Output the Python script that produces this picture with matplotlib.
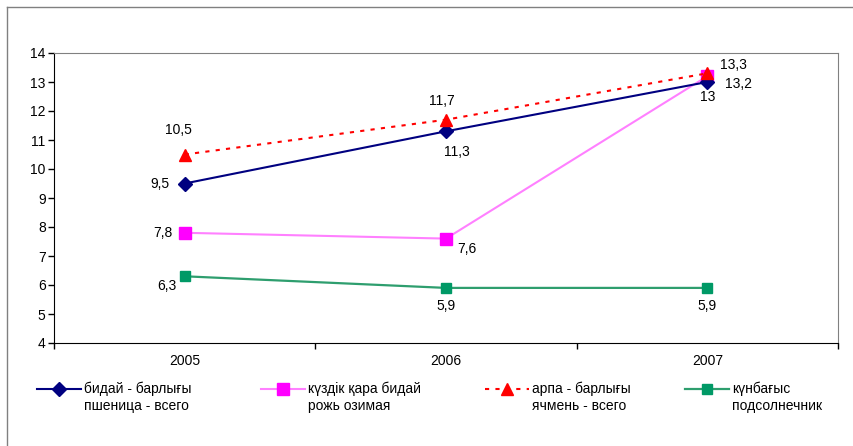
import numpy as np
import matplotlib
matplotlib.use('Agg')
import matplotlib.pyplot as plt
from matplotlib.lines import Line2D

plt.rcParams['font.family'] = ['Liberation Sans', 'DejaVu Sans']

# data
years = ['2005', '2006', '2007']
wheat = [9.5, 11.3, 13]
rye = [7.8, 7.6, 13.2]
barley = [10.5, 11.7, 13.3]
sunflower = [6.3, 5.9, 5.9]
names1 = ['бидай - барлығы', 'күздік қара бидай', 'арпа - барлығы', 'күнбағыс']
names2 = ['пшеница - всего', 'рожь озимая', 'ячмень - всего', 'подсолнечник']

W, H = 854, 446
fs = 10
fig = plt.figure(figsize=(W / 100, H / 100), dpi=100)
ax = fig.add_axes([54 / W, 1 - 343 / H, (838 - 54) / W, (343 - 53) / H])

x = np.arange(len(years))

h1, = ax.plot(x, wheat, color='#000080', lw=1.5, marker='D', ms=7,
              mfc='#000080', mec='#000080', zorder=4)
h2, = ax.plot(x, rye, color='#ff80ff', lw=1.5, marker='s', ms=8,
              mfc='#ff00ff', mec='#ff00ff', zorder=3)
h3, = ax.plot(x, barley, color='#ff0000', lw=1.5, ls=(0, (2, 3)), marker='^',
              ms=8, mfc='#ff0000', mec='#ff0000', zorder=5)
h4, = ax.plot(x, sunflower, color='#2e9e6e', lw=1.6, marker='s', ms=7,
              mfc='#009966', mec='#009966', zorder=3)

def lab(v):
    return ('%g' % v).replace('.', ',')

# label offsets in pixels (dx, dy), positive dy = up
offs = {
    'wheat': [(-25, 0), (11, -21), (0, -15)],
    'rye': [(-22, 0), (21, -10), (31, -8)],
    'barley': [(-6, 24), (-4, 19), (26, 8)],
    'sun': [(-18, -10), (0, -18), (0, -18)],
}
for key, ser in [('wheat', wheat), ('rye', rye), ('barley', barley), ('sun', sunflower)]:
    for i, v in enumerate(ser):
        dx, dy = offs[key][i]
        ax.annotate(lab(v), (x[i], v), xytext=(dx, dy), textcoords='offset pixels',
                    ha='center', va='center', fontsize=fs)

ax.set_xlim(-0.5, 2.5)
ax.set_ylim(4, 14)
ax.set_yticks(range(4, 15))
ax.set_xticks(x)
ax.set_xticklabels(years)
ax.set_xticks([-0.5, 0.5, 1.5, 2.5], minor=True)
ax.tick_params(axis='x', which='major', length=0, pad=8, labelsize=fs)
ax.tick_params(axis='x', which='minor', length=4, direction='out', width=1)
ax.tick_params(axis='y', length=4, direction='out', width=1, labelsize=fs, pad=2)
for s in ['top', 'right']:
    ax.spines[s].set_color('#808080')
ax.spines['left'].set_color('black')
ax.spines['bottom'].set_color('black')

# outer chart frame
fig.add_artist(Line2D([7 / W, 7 / W], [0, 1 - 7 / H], color='#808080', lw=1))
fig.add_artist(Line2D([7 / W, 1], [1 - 7 / H, 1 - 7 / H], color='#808080', lw=1))

# legend entries placed one by one, second line added as plain text
lx = [37, 261, 485, 685]
legs = []
for hx, hnd, nm in zip(lx, [h1, h2, h3, h4], names1):
    leg = fig.legend([hnd], [nm], loc='upper left', bbox_to_anchor=(hx / W, 1 - 382 / H),
                     frameon=False, fontsize=fs, handlelength=3.2, handletextpad=0.2,
                     borderpad=0, borderaxespad=0)
    legs.append(leg)

fig.canvas.draw()
for leg, nm in zip(legs, names2):
    bb = leg.get_texts()[0].get_window_extent()
    fig.text(bb.x0 / W, (bb.y0 - 17) / H, nm, fontsize=fs, ha='left', va='bottom')

fig.savefig('out.png', dpi=100)
